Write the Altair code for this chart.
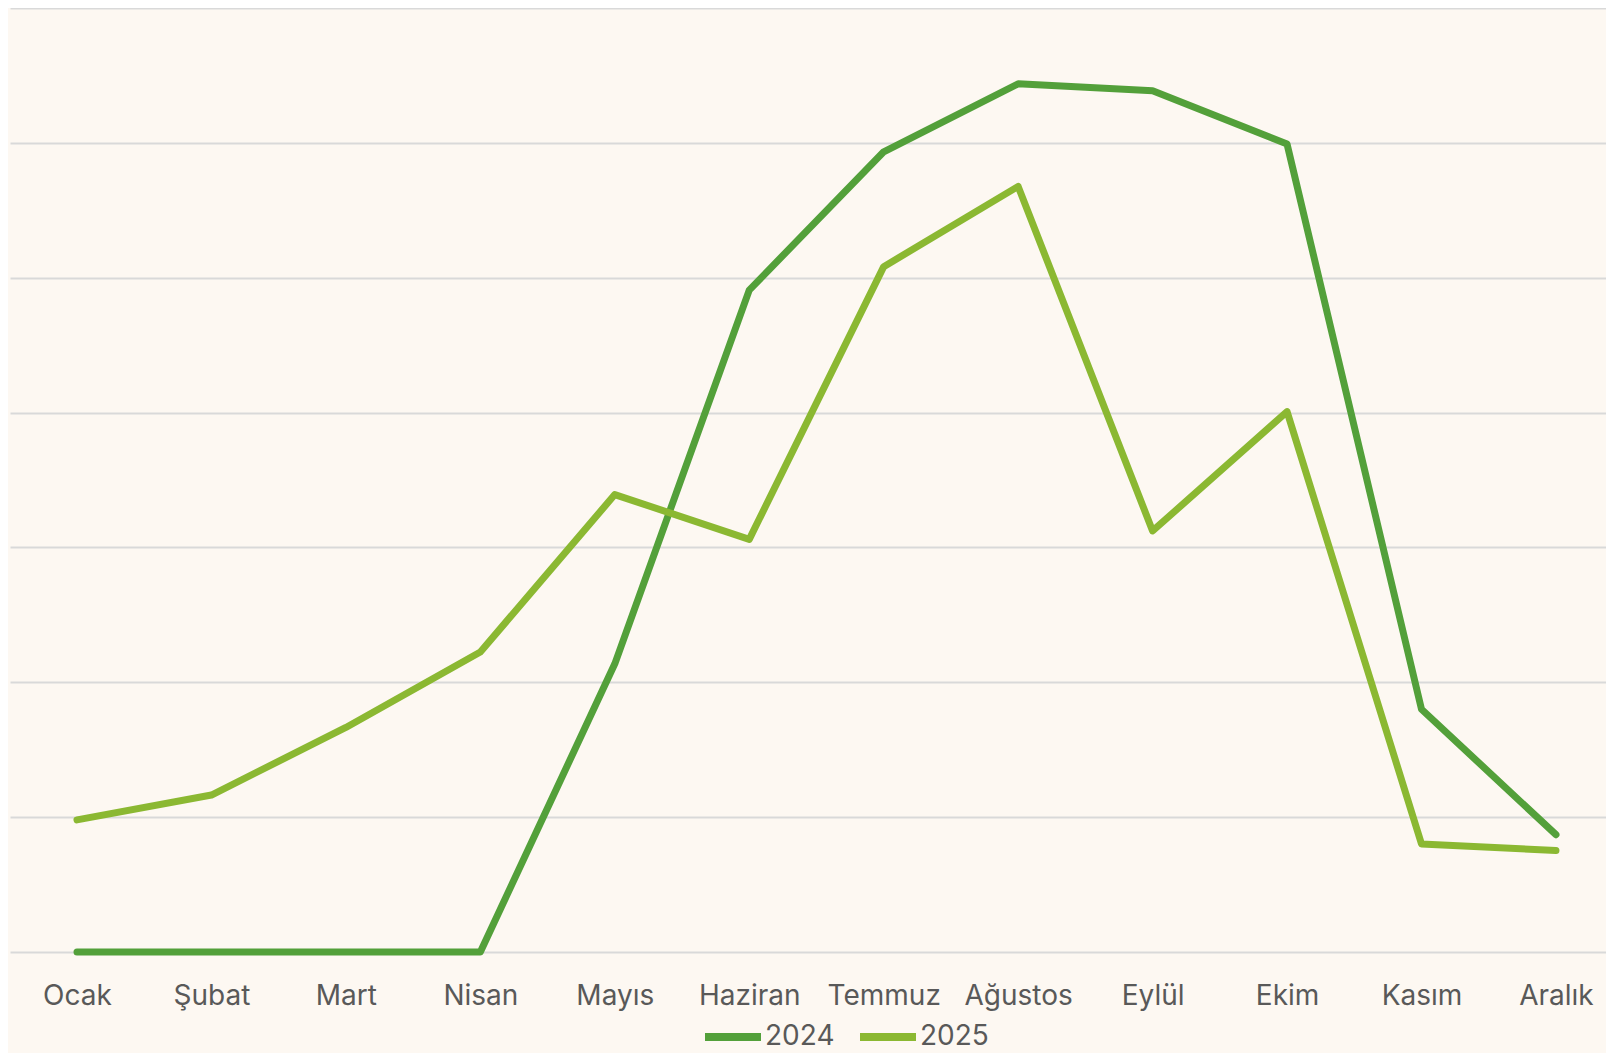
import altair as alt
import pandas as pd

months = ["Ocak", "Şubat", "Mart", "Nisan", "Mayıs", "Haziran",
          "Temmuz", "Ağustos", "Eylül", "Ekim", "Kasım", "Aralık"]
series_names = ["2024", "2025"]
v2024 = [0, 0, 0, 0, 2137, 4908, 5934, 6438, 6386, 5991, 1800, 870]
v2025 = [980, 1164, 1665, 2225, 3392, 3060, 5082, 5677, 3122, 4007, 801, 752]
y_ticks = [0, 1000, 2000, 3000, 4000, 5000, 6000, 7000]
colors = ["#53A03A", "#8BB832"]

rows = []
for name, vals in zip(series_names, [v2024, v2025]):
    for i, (m, v) in enumerate(zip(months, vals)):
        rows.append({"idx": i, "Ay": m, "Yıl": name, "Değer": v})
df = pd.DataFrame(rows)

FONT = "Inter"
TXT = "#595959"
label_expr = "[" + ",".join("'" + m + "'" for m in months) + "][datum.value]"

chart = alt.Chart(df).mark_line(strokeWidth=7, strokeCap="round", strokeJoin="round").encode(
    x=alt.X("idx:Q",
            scale=alt.Scale(domain=[-0.4983, 11.3722], nice=False, zero=False),
            axis=alt.Axis(title=None, labelAngle=0, ticks=False, tickSize=0, domain=False,
                          grid=False, values=list(range(len(months))), labelExpr=label_expr,
                          labelFont=FONT, labelFontSize=28, labelColor=TXT,
                          labelBaseline="alphabetic", labelPadding=52, labelFlush=False,
                          labelOverlap=False)),
    y=alt.Y("Değer:Q", scale=alt.Scale(domain=[0, 7000], nice=False),
            axis=alt.Axis(title=None, labels=False, ticks=False, domain=False,
                          values=y_ticks, grid=True, gridColor="#D9D9D9", gridWidth=1.8)),
    color=alt.Color("Yıl:N", scale=alt.Scale(domain=series_names, range=colors),
                    legend=alt.Legend(title=None, orient="none", direction="horizontal",
                                      legendX=691, legendY=997,
                                      symbolType="stroke", symbolStrokeWidth=8,
                                      symbolSize=3136, labelFont=FONT, labelFontSize=28,
                                      labelColor=TXT, labelOffset=0, columnPadding=9)),
    detail="Yıl:N",
).properties(
    width=1596, height=944,
    background="#FDF8F2",
    padding={"left": 2, "top": 0, "right": 0, "bottom": 101},
    autosize=alt.AutoSizeParams(type="none"),
).configure_view(stroke=None)

chart.save("out.html", embed_options={"renderer": "svg", "actions": False})
